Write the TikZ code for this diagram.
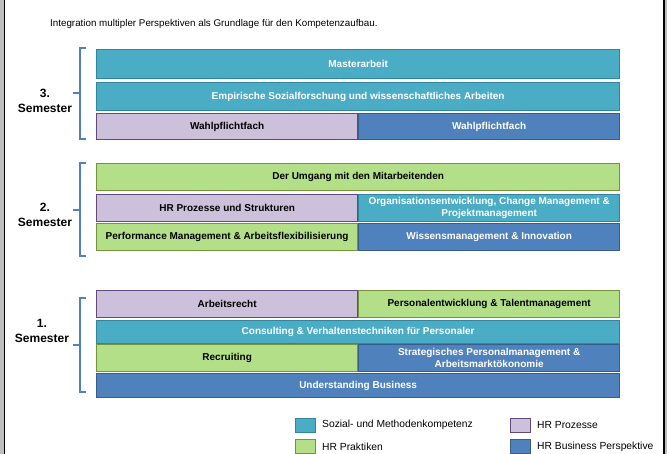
\documentclass[tikz,border=0pt]{standalone}
\usepackage{fontspec}
\setmainfont{Liberation Sans}
\definecolor{tealF}{RGB}{75,172,198}
\definecolor{tealD}{RGB}{49,133,156}
\definecolor{greenF}{RGB}{180,223,137}
\definecolor{greenD}{RGB}{118,146,60}
\definecolor{purpF}{RGB}{204,192,218}
\definecolor{purpD}{RGB}{96,74,123}
\definecolor{blueF}{RGB}{79,129,189}
\definecolor{blueD}{RGB}{56,93,138}
\definecolor{frameG}{RGB}{190,190,190}
\tikzset{
  box/.style={anchor=north west, inner sep=1pt, line width=1.3pt, align=center,
    font=\fontsize{10}{11}\selectfont\bfseries},
  teal/.style={box, fill=tealF, draw=tealD, text=white},
  green/.style={box, fill=greenF, draw=greenD, text=black},
  purp/.style={box, fill=purpF, draw=purpD, text=black},
  blue/.style={box, fill=blueF, draw=blueD, text=white},
  full/.style={minimum width=523pt},
  half/.style={minimum width=261pt},
  semlabel/.style={align=center, font=\fontsize{12}{15}\selectfont\bfseries},
  brace/.style={draw=blueF, line width=1.3pt},
  legsq/.style={anchor=north west, minimum width=20pt, minimum height=14pt, inner sep=0pt, line width=1.3pt},
  legtx/.style={anchor=west, inner sep=0pt, font=\fontsize{10.3}{12}\selectfont},
}
\begin{document}
\begin{tikzpicture}[x=1pt,y=-1pt]
\useasboundingbox (0,0) rectangle (667,454);
% frame
\fill[frameG] (0,0) rectangle (3.5,454);
\draw[line width=1.6pt] (4.6,0) -- (4.6,454);
\draw[line width=1.6pt] (663.8,0) -- (663.8,454);
\fill[frameG] (664.8,0) rectangle (667,454);

\node[anchor=west, inner sep=0pt, font=\fontsize{9.8}{11}\selectfont] (sub) at (50,24) {Integration multipler Perspektiven als Grundlage für den Kompetenzaufbau.};

% Semester 3
\node[teal, full, minimum height=29pt] (master) at (96,49) {Masterarbeit};
\node[teal, full, minimum height=28pt] (empir) at (96,82) {Empirische Sozialforschung und wissenschaftliches Arbeiten};
\node[purp, half, minimum height=26pt] (wpf1) at (96,113) {Wahlpflichtfach};
\node[blue, half, minimum height=26pt] (wpf2) at (358,113) {Wahlpflichtfach};

% Semester 2
\node[green, full, minimum height=27pt] (umgang) at (96,163) {Der Umgang mit den Mitarbeitenden};
\node[purp, half, minimum height=27pt] (hrp) at (96,194) {HR Prozesse und Strukturen};
\node[teal, half, minimum height=27pt, font=\fontsize{10}{12}\selectfont\bfseries] (orga) at (358,194) {Organisationsentwicklung, Change Management \&\\Projektmanagement};
\node[green, half, minimum height=27pt] (perf) at (96,223) {Performance Management \& Arbeitsflexibilisierung};
\node[blue, half, minimum height=27pt] (wiss) at (358,223) {Wissensmanagement \& Innovation};

% Semester 1
\node[purp, half, minimum height=27pt] (arecht) at (96,290) {Arbeitsrecht};
\node[green, half, minimum height=27pt] (pers) at (358,290) {Personalentwicklung \& Talentmanagement};
\node[teal, full, minimum height=23pt] (consult) at (96,320) {Consulting \& Verhaltenstechniken für Personaler};
\node[green, half, minimum height=27pt] (recr) at (96,344) {Recruiting};
\node[blue, half, minimum height=27pt, font=\fontsize{10}{12}\selectfont\bfseries] (strat) at (358,344) {Strategisches Personalmanagement \&\\Arbeitsmarktökonomie};
\node[blue, full, minimum height=24pt] (under) at (96,373) {Understanding Business};

% braces
\draw[brace] (86,48) -- (80,48) -- (80,139) -- (86,139);
\draw[brace] (73,93) -- (80,93);
\draw[brace] (86,163) -- (80,163) -- (80,256) -- (86,256);
\draw[brace] (73,210) -- (80,210);
\draw[brace] (86,298) -- (80,298) -- (80,392) -- (86,392);
\draw[brace] (73,345) -- (80,345);

% semester labels
\node[semlabel] (s3) at (45,101) {3.\\Semester};
\node[semlabel] (s2) at (45,215) {2.\\Semester};
\node[semlabel] (s1) at (42,331) {1.\\Semester};

% legend
\node[legsq, fill=tealF, draw=tealD] (l1) at (295,418) {};
\node[legtx] (l1t) at (322,425) {Sozial- und Methodenkompetenz};
\node[legsq, fill=greenF, draw=greenD] (l2) at (295,439) {};
\node[legtx] (l2t) at (322,447) {HR Praktiken};
\node[legsq, fill=purpF, draw=purpD] (l3) at (510,418) {};
\node[legtx] (l3t) at (537,425) {HR Prozesse};
\node[legsq, fill=blueF, draw=blueD] (l4) at (510,439) {};
\node[legtx] (l4t) at (537,447) {HR Business Perspektive};
\end{tikzpicture}
\end{document}
